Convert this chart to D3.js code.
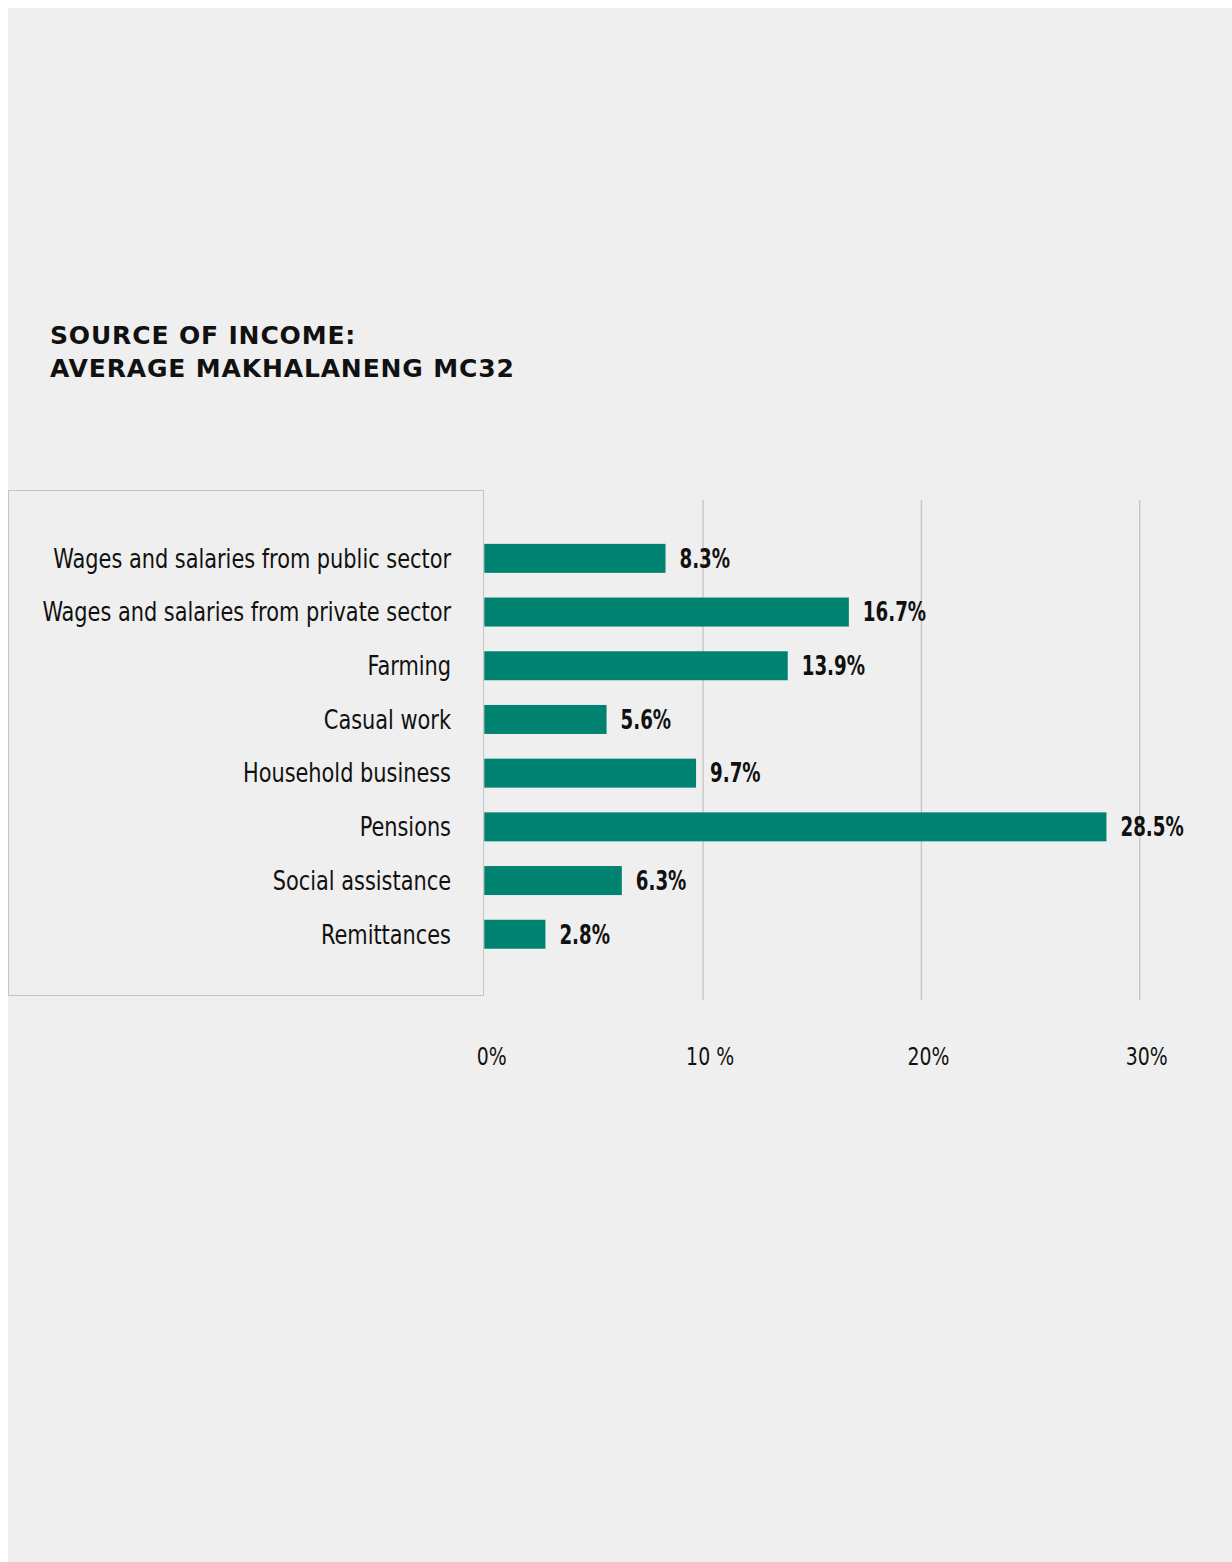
<!DOCTYPE html>
<html>
<head>
<meta charset="utf-8">
<script src="https://cdn.jsdelivr.net/npm/d3@7"></script>
<style>
  html, body { margin: 0; padding: 0; background: #ffffff; }
  svg { display: block; }
  .cond { font-family: "DejaVu Sans Condensed", "Liberation Sans Narrow", sans-serif; }
</style>
</head>
<body>
<svg id="chart" width="1232" height="1562"></svg>
<script>
// Income sources and their shares (%)
const categories = [
  "Wages and salaries from public sector",
  "Wages and salaries from private sector",
  "Farming",
  "Casual work",
  "Household business",
  "Pensions",
  "Social assistance",
  "Remittances"
];
const shares = [8.3, 16.7, 13.9, 5.6, 9.7, 28.5, 6.3, 2.8];
const tickValues = [0, 10, 20, 30];
const tickLabels = ["0%", "10 %", "20%", "30%"];
const titleLines = ["SOURCE OF INCOME:", "AVERAGE MAKHALANENG MC32"];

const svg = d3.select("#chart");

// squeeze a text horizontally around its anchor point
function squeeze(sel, k) {
  sel.each(function () {
    const t = d3.select(this);
    const ax = +t.attr("x") || 0;
    t.attr("transform", `translate(${ax},0) scale(${k},1) translate(${-ax},0)`);
  });
}

// panel background
svg.append("rect")
  .attr("x", 8).attr("y", 8)
  .attr("width", 1224).attr("height", 1554)
  .attr("fill", "#efefef");

// title
const title = svg.append("text")
  .attr("font-family", "'DejaVu Sans', sans-serif")
  .attr("font-weight", "bold")
  .attr("font-size", 25)
  .attr("letter-spacing", 0.85)
  .attr("fill", "#111");
titleLines.forEach((t, i) => {
  title.append("tspan").attr("x", 50).attr("y", 344 + i * 33).text(t);
});

// label box
svg.append("rect")
  .attr("x", 8.5).attr("y", 490.5)
  .attr("width", 475).attr("height", 505)
  .attr("fill", "none")
  .attr("stroke", "#c4c4c4")
  .attr("stroke-width", 1);

const x = d3.scaleLinear().domain([0, 10]).range([484.3, 702.6]);
const y = d3.scaleBand()
  .domain(categories)
  .range([531.5, 961.1])
  .paddingInner(0.46)
  .paddingOuter(0.23);

// gridlines and tick labels
const axis = d3.axisBottom(x)
  .tickValues(tickValues)
  .tickSize(-500)
  .tickPadding(60)
  .tickFormat((d, i) => tickLabels[i]);

const gAxis = svg.append("g")
  .attr("transform", "translate(0,1000)")
  .call(axis);
gAxis.select(".domain").remove();
gAxis.selectAll(".tick line")
  .attr("stroke", "#c4c4c4")
  .attr("stroke-width", 1.3)
  .filter(d => d === 0).remove();
gAxis.selectAll(".tick text")
  .attr("class", "cond")
  .attr("font-size", 25)
  .attr("fill", "#111")
  .attr("x", 7)
  .attr("dy", "0.2em")
  .call(squeeze, 0.84);

// category labels
const catLabels = svg.append("g").selectAll("text")
  .data(categories)
  .join("text")
  .attr("class", "cond")
  .attr("x", 451)
  .attr("y", d => y(d) + y.bandwidth() / 2)
  .attr("dy", "0.36em")
  .attr("text-anchor", "end")
  .attr("font-size", 26)
  .attr("fill", "#111")
  .text(d => d);
const longest = catLabels.node().getComputedTextLength();
catLabels.call(squeeze, 398 / longest);

// bars
svg.append("g").selectAll("rect")
  .data(shares)
  .join("rect")
  .attr("x", x(0))
  .attr("y", (d, i) => y(categories[i]))
  .attr("width", d => x(d) - x(0))
  .attr("height", y.bandwidth())
  .attr("fill", "#008270");

// value labels
svg.append("g").selectAll("text")
  .data(shares)
  .join("text")
  .attr("class", "cond")
  .attr("x", d => x(d) + 14)
  .attr("y", (d, i) => y(categories[i]) + y.bandwidth() / 2)
  .attr("dy", "0.36em")
  .attr("font-size", 26)
  .attr("font-weight", "bold")
  .attr("fill", "#111")
  .text(d => d.toFixed(1) + "%")
  .call(squeeze, 0.78);
</script>
</body>
</html>
